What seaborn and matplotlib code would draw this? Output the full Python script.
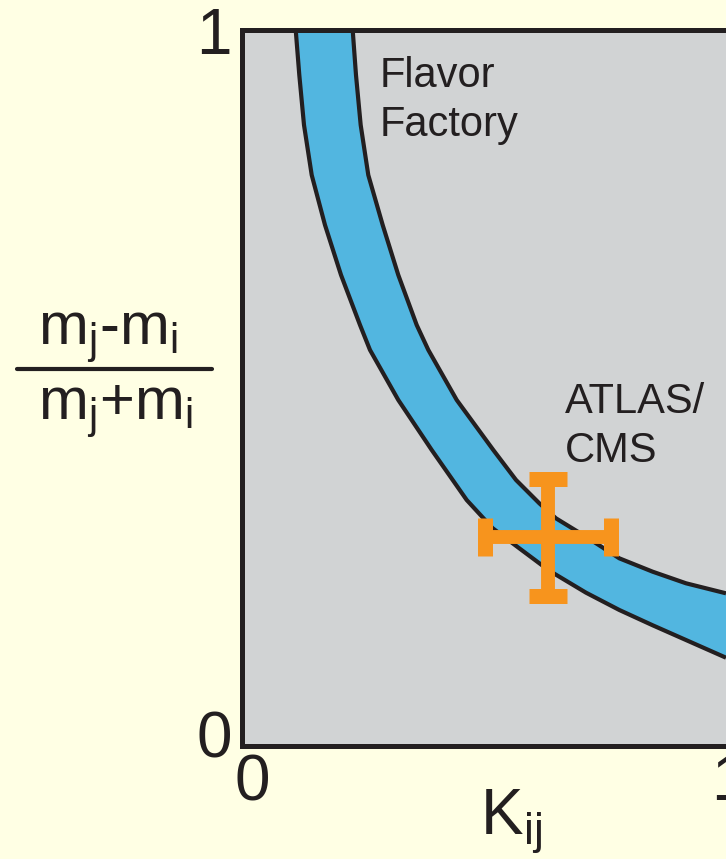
import numpy as np
import pandas as pd
import matplotlib
matplotlib.use("Agg")
import matplotlib.pyplot as plt
import matplotlib.transforms as mtransforms
from matplotlib.lines import Line2D
import seaborn as sns

# ---- data ----
upper_x = [0.2295, 0.2363, 0.2460, 0.2617, 0.2914, 0.3236, 0.3616, 0.3856, 0.4442,
           0.5197, 0.5666, 0.6147, 0.6491, 0.7110, 0.7798, 0.8487, 0.9175, 1.0000]
upper_y = [1.0000, 0.9371, 0.8672, 0.7973, 0.7275, 0.6576, 0.5877, 0.5528, 0.4829,
           0.4130, 0.3711, 0.3385, 0.3175, 0.2918, 0.2616, 0.2429, 0.2267, 0.2127]
lower_x = [0.1119, 0.1193, 0.1290, 0.1449, 0.1723, 0.2054, 0.2446, 0.2652, 0.3236,
           0.3926, 0.4648, 0.5185, 0.5734, 0.6353, 0.7110, 0.7798, 0.8487, 0.9175, 1.0000]
lower_y = [1.0000, 0.9371, 0.8672, 0.7973, 0.7275, 0.6576, 0.5877, 0.5528, 0.4829,
           0.4130, 0.3431, 0.3036, 0.2756, 0.2443, 0.2136, 0.1894, 0.1680, 0.1474, 0.1227]
point_x = [0.633]
point_y = [0.291]
point_xerr = [0.130]
point_yerr = [0.082]
tick_values = [0, 1]
tick_labels = ["0", "1"]
region_labels = ["Flavor\nFactory", "ATLAS/\nCMS"]
region_x = [0.286, 0.668]
region_y = [0.852, 0.396]   # baseline of the last line

BG = "#FFFFE4"
GRAY = "#D1D3D4"
BLUE = "#52B6E0"
ORANGE = "#F7941D"
INK = "#231F20"

sns.set_theme(style="white")
plt.rcParams["font.family"] = ["Liberation Sans", "DejaVu Sans"]
plt.rcParams["mathtext.default"] = "regular"

W, H = 726, 859
fig = plt.figure(figsize=(W / 100, H / 100), dpi=100, facecolor=BG)
ax = fig.add_axes([241.5 / W, (H - 745.5) / H, 484.5 / W, 715.5 / H])
ax.set_facecolor(GRAY)

# band
poly_x = np.concatenate([upper_x, lower_x[::-1]])
poly_y = np.concatenate([upper_y, lower_y[::-1]])
ax.fill(poly_x, poly_y, color=BLUE, lw=0, zorder=1)

up = pd.DataFrame({"x": upper_x, "y": upper_y})
lo = pd.DataFrame({"x": lower_x, "y": lower_y})
for df in (up, lo):
    sns.lineplot(data=df, x="x", y="y", ax=ax, color=INK, lw=3, sort=False,
                 zorder=2, solid_joinstyle="round", solid_capstyle="butt")

# ATLAS/CMS cross
ax.errorbar(point_x, point_y, xerr=point_xerr, yerr=point_yerr, fmt="none",
            ecolor=ORANGE, elinewidth=10, capsize=14, capthick=10.8, zorder=3)

for lab, x, y in zip(region_labels, region_x, region_y):
    ax.text(x, y, lab, fontsize=30, color=INK, ha="left", va="baseline",
            linespacing=1.3, zorder=4)

ax.set_xlim(0, 1)
ax.set_ylim(0, 1)
ax.set_xticks(tick_values)
ax.set_xticklabels(tick_labels)
ax.set_yticks(tick_values)
ax.set_yticklabels(tick_labels)
ax.tick_params(axis="both", length=0, labelsize=46, colors=INK)
ax.tick_params(axis="x", pad=5.5)
ax.tick_params(axis="y", pad=7)
ax.set_xlabel("")
ax.set_ylabel("")

for side in ["left", "bottom", "top"]:
    ax.spines[side].set_visible(True)
    ax.spines[side].set_linewidth(3.6)
    ax.spines[side].set_color(INK)
ax.spines["right"].set_visible(False)

# individual offsets of tick labels
def shift(label, dx_px, dy_px):
    off = mtransforms.Affine2D().translate(dx_px, dy_px)
    label.set_transform(label.get_transform() + off)

xl = ax.get_xticklabels()
shift(xl[0], 11, 0)
shift(xl[1], 3, 0)
yl = ax.get_yticklabels()
shift(yl[0], 0, 11)
shift(yl[1], 0, -1)

# axis labels
fig.text(511 / W, 1 - 835 / H, "K$_{ij}$", fontsize=46, color=INK, ha="center", va="baseline")
fig.text(108 / W, 1 - 345 / H, "m$_j$-m$_i$", fontsize=43, color=INK, ha="center", va="baseline")
fig.text(115 / W, 1 - 420 / H, "m$_j$+m$_i$", fontsize=43, color=INK, ha="center", va="baseline")
fig.add_artist(Line2D([17 / W, 212 / W], [1 - 369 / H, 1 - 369 / H], lw=3, color=INK,
                      transform=fig.transFigure))

fig.savefig("out.png", dpi=100, facecolor=BG)
